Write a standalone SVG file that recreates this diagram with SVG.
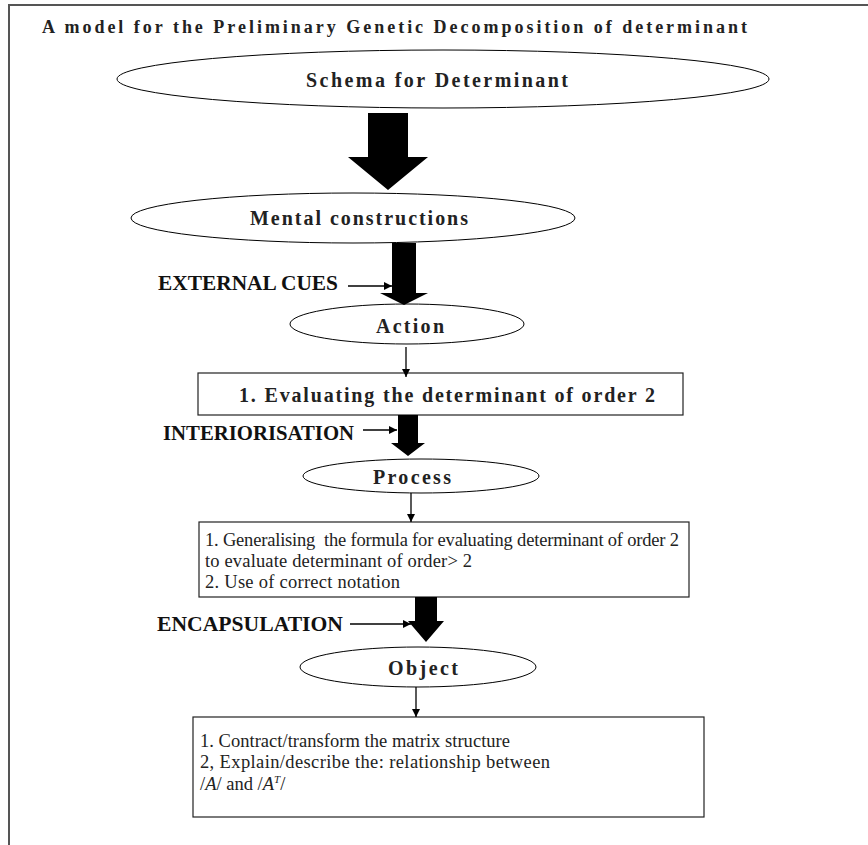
<svg xmlns="http://www.w3.org/2000/svg" width="868" height="845" viewBox="0 0 868 845">
<defs>
<style>
.frame{stroke:#555;stroke-width:2;fill:none}
.ell{fill:#fff;stroke:#000;stroke-width:1}
.box{fill:#fff;stroke:#222;stroke-width:1.2}
.big{fill:#000}
.thin{stroke:#000;stroke-width:1.3;fill:none}
.hd{font-family:'Liberation Serif','Times New Roman',Times,'DejaVu Serif',serif;font-weight:bold;fill:#222}
.lbl{font-family:'Liberation Serif','Times New Roman',Times,'DejaVu Serif',serif;font-weight:bold;font-size:21px;fill:#111}
.txt{font-family:'Liberation Serif','Times New Roman',Times,'DejaVu Serif',serif;font-size:18.5px;fill:#222}
</style>
<marker id="ah" viewBox="0 0 10 10" refX="10" refY="5" markerWidth="8" markerHeight="8" markerUnits="userSpaceOnUse" orient="auto">
<path d="M0,0 L10,5 L0,10 z" fill="#000"/>
</marker>
</defs>
<rect width="868" height="845" fill="#fff"/>
<path class="frame" d="M9,845 V5 H868"/>
<text id="title" class="hd" x="42" y="33" font-size="18" textLength="705" lengthAdjust="spacing">A model for the Preliminary Genetic Decomposition of determinant</text>

<g id="schema">
<ellipse class="ell" cx="443" cy="79" rx="326" ry="29"/>
<text class="hd" x="306" y="87" font-size="20" textLength="262" lengthAdjust="spacing">Schema for Determinant</text>
</g>
<g id="mental">
<ellipse class="ell" cx="353" cy="218" rx="222" ry="25"/>
<text class="hd" x="250" y="225" font-size="20" textLength="218" lengthAdjust="spacing">Mental constructions</text>
</g>
<g id="action">
<ellipse class="ell" cx="407" cy="324" rx="117" ry="20"/>
<text class="hd" x="376" y="333" font-size="20" textLength="68" lengthAdjust="spacing">Action</text>
</g>
<g id="box1">
<rect class="box" x="198" y="373" width="485" height="42"/>
<text class="hd" x="239" y="402" font-size="20" textLength="416" lengthAdjust="spacing">1. Evaluating the determinant of order 2</text>
</g>
<g id="process">
<ellipse class="ell" cx="421" cy="476" rx="118" ry="17"/>
<text class="hd" x="373" y="484" font-size="20" textLength="78" lengthAdjust="spacing">Process</text>
</g>
<g id="box2">
<rect class="box" x="199" y="522" width="490" height="75"/>
<text class="txt" x="205" y="546" textLength="474" lengthAdjust="spacing" style="white-space:pre">1. Generalising  the formula for evaluating determinant of order 2</text>
<text class="txt" x="205" y="567" textLength="267" lengthAdjust="spacing">to evaluate determinant of order&gt; 2</text>
<text class="txt" x="205" y="588" textLength="195" lengthAdjust="spacing">2. Use of correct notation</text>
</g>
<g id="object">
<ellipse class="ell" cx="418" cy="667" rx="118" ry="20"/>
<text class="hd" x="388" y="675" font-size="20" textLength="70" lengthAdjust="spacing">Object</text>
</g>
<g id="box3">
<rect class="box" x="193" y="717" width="511" height="100"/>
<text class="txt" x="200" y="747" textLength="310" lengthAdjust="spacing">1. Contract/transform the matrix structure</text>
<text class="txt" x="200" y="768" textLength="350" lengthAdjust="spacing">2, Explain/describe the: relationship between</text>
<text class="txt" x="200" y="790">/<tspan font-style="italic">A</tspan>/ and /<tspan font-style="italic">A</tspan><tspan font-style="italic" font-size="11" dy="-7">T</tspan><tspan dy="7">/</tspan></text>
</g>
<g id="labels">
<text class="lbl" x="158" y="290" textLength="180" lengthAdjust="spacingAndGlyphs">EXTERNAL CUES</text>
<text class="lbl" x="163" y="440" textLength="191" lengthAdjust="spacingAndGlyphs">INTERIORISATION</text>
<text class="lbl" x="157" y="631" textLength="186" lengthAdjust="spacingAndGlyphs">ENCAPSULATION</text>
</g>
<g id="connectors">
<polygon class="big" points="368,113 408,113 408,157 428,157 388,190 348,157 368,157"/>
<polygon class="big" points="392,243 416,243 416,293 428,293 404,305 380,293 392,293"/>
<polygon class="big" points="398,415 418,415 418,443 425,443 408,456 391,443 398,443"/>
<polygon class="big" points="415,597 437,597 437,621 444,621 426,642 408,621 415,621"/>
<line class="thin" x1="406" y1="347" x2="406" y2="377" marker-end="url(#ah)"/>
<line class="thin" x1="411" y1="493" x2="411" y2="522" marker-end="url(#ah)"/>
<line class="thin" x1="416" y1="687" x2="416" y2="717" marker-end="url(#ah)"/>
<line class="thin" x1="348" y1="286" x2="392" y2="286" marker-end="url(#ah)"/>
<line class="thin" x1="363" y1="430" x2="397" y2="430" marker-end="url(#ah)"/>
<line class="thin" x1="350" y1="624" x2="411" y2="624" marker-end="url(#ah)"/>
</g>
</svg>
